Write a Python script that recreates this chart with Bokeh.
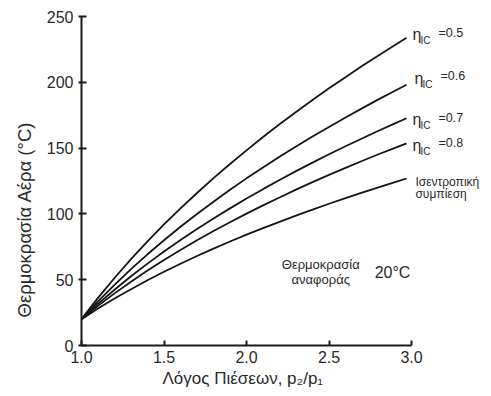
from bokeh.plotting import figure
from bokeh.models import Label, Range1d, FixedTicker, Title
from bokeh.embed import file_html
from bokeh.resources import INLINE

# Data
pressure_ratio = [1.0, 1.1, 1.2, 1.3, 1.4, 1.5, 1.6, 1.7, 1.8, 1.9, 2.0,
                  2.1, 2.2, 2.3, 2.4, 2.5, 2.6, 2.7, 2.8, 2.9, 2.97]
eta_05 = [20, 36.2, 51.3, 65.6, 79.1, 92.0, 104.2, 115.9, 127.2, 137.9, 148.3,
          158.4, 168.1, 177.4, 186.5, 195.4, 203.9, 212.3, 220.4, 228.3, 233.8]
eta_06 = [20, 33.5, 46.1, 58.0, 69.3, 80.0, 90.2, 99.9, 109.3, 118.3, 127.0,
          135.3, 143.4, 151.2, 158.8, 166.1, 173.3, 180.2, 187.0, 193.6, 198.1]
eta_07 = [20, 31.6, 42.4, 52.6, 62.2, 71.4, 80.2, 88.5, 96.5, 104.2, 111.7,
          118.8, 125.8, 132.5, 139.0, 145.3, 151.4, 157.3, 163.2, 168.8, 172.7]
eta_08 = [20, 30.1, 39.6, 48.5, 57.0, 65.0, 72.6, 80.0, 87.0, 93.7, 100.2,
          106.5, 112.5, 118.4, 124.1, 129.6, 135.0, 140.2, 145.3, 150.2, 153.6]
isentropic = [20, 28.1, 35.7, 42.8, 49.6, 56.0, 62.1, 68.0, 73.6, 79.0, 84.2,
              89.2, 94.0, 98.7, 103.3, 107.7, 112.0, 116.1, 120.2, 124.2, 126.9]

x_ticks = [1.0, 1.5, 2.0, 2.5, 3.0]
x_tick_labels = ["1.0", "1.5", "2.0", "2.5", "3.0"]
y_ticks = [0, 50, 100, 150, 200, 250]

eta_labels = ["=0.5", "=0.6", "=0.7", "=0.8"]

FONT = "Liberation Sans"
TXT = "#2a2a2a"

p = figure(width=489, height=395, x_range=Range1d(1.0, 3.4727), y_range=Range1d(0, 250),
           output_backend="svg", toolbar_location=None,
           min_border_left=81, min_border_right=0, min_border_top=16, min_border_bottom=50)
p.outline_line_color = None
p.grid.visible = False

for series in [eta_05, eta_06, eta_07, eta_08, isentropic]:
    p.line(pressure_ratio, series, line_color="#151515", line_width=1.8)

for ax in (p.xaxis, p.yaxis):
    ax.axis_line_width = 2
    ax.axis_line_color = "#1a1a1a"
    ax.major_tick_line_color = "#1a1a1a"
    ax.major_tick_line_width = 2
    ax.minor_tick_line_color = None
    ax.major_label_text_font = FONT
    ax.major_label_text_font_size = "16px"
    ax.major_label_text_color = TXT

p.xaxis.ticker = FixedTicker(ticks=x_ticks)
p.xaxis.major_label_overrides = dict(zip(x_ticks, x_tick_labels))
p.xaxis.bounds = (1.0, 3.0)
p.xaxis.major_tick_in = 5
p.xaxis.major_tick_out = 0
p.xaxis.major_label_standoff = 5

p.add_layout(Title(text="Λόγος Πιέσεων, p₂/p₁", align="left", offset=81,
                   text_font=FONT, text_font_size="17px", text_font_style="normal",
                   text_color=TXT, standoff=2), "below")

p.yaxis.ticker = FixedTicker(ticks=y_ticks)
p.yaxis.bounds = (0, 250)
p.yaxis.major_tick_in = 5
p.yaxis.major_tick_out = 3
p.yaxis.major_label_standoff = 5

p.add_layout(Title(text="Θερμοκρασία Αέρα (°C)", align="left", offset=28,
                   text_font=FONT, text_font_size="18.5px", text_font_style="normal",
                   text_color=TXT, standoff=18), "left")

# eta labels (positions in data units, to the right of the curves)
eta_pos = [(3.006, 236.0), (3.018, 203.0), (3.006, 171.5), (3.006, 152.0)]
for (lx, ly), lab in zip(eta_pos, eta_labels):
    p.add_layout(Label(x=lx, y=ly, text="η", text_font=FONT, text_font_size="16px",
                       text_color=TXT, text_baseline="middle", text_align="left"))
    p.add_layout(Label(x=lx, y=ly, x_offset=8, y_offset=-6, text="IC", text_font=FONT,
                       text_font_size="10px", text_color=TXT, text_baseline="middle",
                       text_align="left"))
    p.add_layout(Label(x=lx, y=ly, x_offset=26, y_offset=2, text=lab, text_font=FONT,
                       text_font_size="12.5px", text_color=TXT, text_baseline="middle",
                       text_align="left"))

p.add_layout(Label(x=3.024, y=124.5, text="Ισεντροπική", text_font=FONT,
                   text_font_size="12px", text_color=TXT, text_baseline="middle"))
p.add_layout(Label(x=3.024, y=115.5, text="συμπίεση", text_font=FONT,
                   text_font_size="12px", text_color=TXT, text_baseline="middle"))

p.add_layout(Label(x=2.45, y=61.5, text="Θερμοκρασία", text_font=FONT,
                   text_font_size="13px", text_color=TXT, text_baseline="middle",
                   text_align="center"))
p.add_layout(Label(x=2.45, y=50.5, text="αναφοράς", text_font=FONT,
                   text_font_size="13px", text_color=TXT, text_baseline="middle",
                   text_align="center"))
p.add_layout(Label(x=2.885, y=55.5, text="20°C", text_font=FONT,
                   text_font_size="16px", text_color=TXT, text_baseline="middle",
                   text_align="center"))

open("out.html", "w").write(file_html(p, INLINE))
